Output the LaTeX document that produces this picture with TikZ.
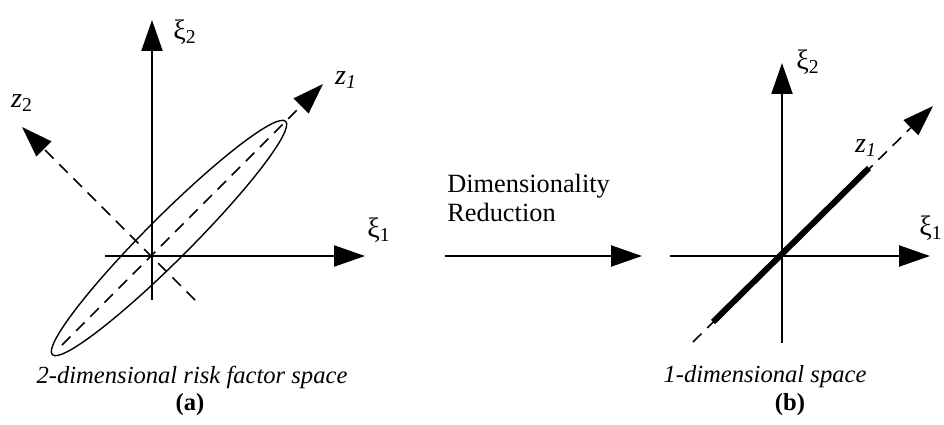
\documentclass[tikz,border=0pt]{standalone}
\usepackage{fontspec}
\setmainfont{Liberation Serif}
\usepackage{tikz}
\usetikzlibrary{arrows.meta,positioning}

\begin{document}
\begin{tikzpicture}[
  x=0.02cm, y=0.02cm,
  axis/.style={-{Triangle[length=0.62cm, width=0.42cm]}, line width=1.2pt},
  zaxis/.style={-{Triangle[length=0.62cm, width=0.42cm]}, line width=0.9pt, dash pattern=on 0.24cm off 0.16cm},
  axlabel/.style={font=\fontsize{16}{18}\selectfont, inner sep=0pt},
  caption/.style={font=\fontsize{14}{16}\selectfont\itshape, inner sep=0pt},
  tag/.style={font=\fontsize{14}{16}\selectfont\bfseries, inner sep=0pt}
]
\useasboundingbox (0,0) rectangle (944,424);
% Part (a): 2-dimensional risk factor space
\coordinate (oa) at (152,168);
\coordinate (xa1s) at (105,168);
\coordinate (xa1e) at (365,168);
\coordinate (xa2s) at (152,124);
\coordinate (xa2e) at (152,404);
\coordinate (za1s) at (62,79);
\coordinate (za1e) at (323,340);
\coordinate (za2s) at (195,124);
\coordinate (za2e) at (22,297);
\coordinate (ctr) at (169,186);
% Ellipse of the data cloud
\draw[line width=0.8pt, rotate around={45:(ctr)}] (ctr) ellipse [x radius=3.3cm, y radius=0.44cm];
% Principal directions
\draw[zaxis] (za1s) -- (za1e);
\draw[zaxis] (za2s) -- (za2e);
% Risk factor axes
\draw[axis] (xa1s) -- (xa1e);
\draw[axis] (xa2s) -- (xa2e);
\node[axlabel] (lxa1) at (379,194) {ξ\textsubscript{1}};
\node[axlabel] (lxa2) at (185,392) {ξ\textsubscript{2}};
\node[axlabel] (lza1) at (346,344) {\textit{z}\textsubscript{\textit{1}}};
\node[axlabel] (lza2) at (22,321) {\textit{z}\textsubscript{2}};
\node[caption] (capa) at (192,47) {2-dimensional risk factor space};
\node[tag] (taga) at (190,19) {(a)};

% Dimensionality reduction arrow
\coordinate (reds) at (445,168);
\coordinate (rede) at (642,168);
\draw[axis] (reds) -- (rede);
\node[font=\fontsize{15}{17}\selectfont, align=left, anchor=west, inner sep=0pt] (red) at (447,226) {Dimensionality\\Reduction};

% Part (b): 1-dimensional space
\coordinate (ob) at (782,168);
\coordinate (xb1s) at (670,168);
\coordinate (xb1e) at (930,168);
\coordinate (xb2s) at (782,81);
\coordinate (xb2e) at (782,361);
\coordinate (zb1s) at (693,82);
\coordinate (zb1e) at (933,318);
\coordinate (segs) at (713,102);
\coordinate (sege) at (869,256);
\draw[zaxis] (zb1s) -- (zb1e);
\draw[axis] (xb1s) -- (xb1e);
\draw[axis] (xb2s) -- (xb2e);
% Projected data on z1
\draw[line width=3.4pt] (segs) -- (sege);
\node[axlabel, anchor=east] (lxb1) at (943,196) {ξ\textsubscript{1}};
\node[axlabel] (lxb2) at (808,362) {ξ\textsubscript{2}};
\node[axlabel] (lzb1) at (866,276) {\textit{z}\textsubscript{\textit{1}}};
\node[caption] (capb) at (765,47) {1-dimensional space};
\node[tag] (tagb) at (790,19) {(b)};
\end{tikzpicture}
\end{document}
